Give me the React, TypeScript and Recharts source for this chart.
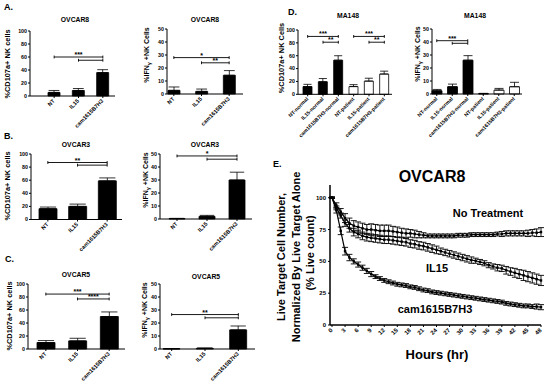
import React from "react";
import {
  BarChart,
  Bar,
  XAxis,
  YAxis,
  ErrorBar,
  ReferenceLine,
  Cell,
  LineChart,
  Line,
} from "recharts";

const FONT = "Arial, 'Liberation Sans', Helvetica, sans-serif";

// categories
const ovcarGroups = ["NT", "IL15", "cam1615B7H3"];
const ma148Groups = [
  "NT-normal",
  "IL15-normal",
  "cam1615B7H3-normal",
  "NT-patient",
  "IL15-patient",
  "cam1615B7H3-patient",
];

// bar means and SEM
const ovcar8Cd107a = [5.5, 8.5, 36];
const ovcar8Cd107aSem = [3, 3, 4.5];
const ovcar8Ifng = [2.8, 2, 14.4];
const ovcar8IfngSem = [2.6, 1.8, 3.6];
const ovcar3Cd107a = [16.5, 20, 59];
const ovcar3Cd107aSem = [2.5, 3.5, 4.5];
const ovcar3Ifng = [0.3, 2, 30];
const ovcar3IfngSem = [0.2, 0.8, 6];
const ovcar5Cd107a = [10, 12.5, 50];
const ovcar5Cd107aSem = [3, 4, 7];
const ovcar5Ifng = [0.2, 0.5, 14.7];
const ovcar5IfngSem = [0.1, 0.3, 3];
const ma148Cd107a = [12, 19.5, 53, 12, 20.5, 31.5];
const ma148Cd107aSem = [3.5, 5, 7, 3, 4.5, 4.5];
const ma148Ifng = [2.5, 5.6, 26, 0.3, 3, 5.6];
const ma148IfngSem = [1, 2, 3.5, 0.2, 1.3, 3.4];

// significance brackets
type Bracket = { from: string; to: string; y: number; label?: string };
const ovcar8Cd107aSig: Bracket[] = [
  { from: "NT", to: "cam1615B7H3", y: 60, label: "***" },
  { from: "IL15", to: "cam1615B7H3", y: 55 },
];
const ovcar8IfngSig: Bracket[] = [
  { from: "NT", to: "cam1615B7H3", y: 28, label: "*" },
  { from: "IL15", to: "cam1615B7H3", y: 24, label: "**" },
];
const ovcar3Cd107aSig: Bracket[] = [
  { from: "NT", to: "cam1615B7H3", y: 87, label: "**" },
  { from: "IL15", to: "cam1615B7H3", y: 83 },
];
const ovcar3IfngSig: Bracket[] = [
  { from: "NT", to: "cam1615B7H3", y: 48.5, label: "*" },
  { from: "IL15", to: "cam1615B7H3", y: 46 },
];
const ovcar5Cd107aSig: Bracket[] = [
  { from: "NT", to: "cam1615B7H3", y: 84.5, label: "***" },
  { from: "IL15", to: "cam1615B7H3", y: 77, label: "****" },
];
const ovcar5IfngSig: Bracket[] = [
  { from: "NT", to: "cam1615B7H3", y: 26.5, label: "**" },
  { from: "IL15", to: "cam1615B7H3", y: 24 },
];
const ma148Cd107aSig: Bracket[] = [
  { from: "NT-normal", to: "cam1615B7H3-normal", y: 90, label: "***" },
  { from: "IL15-normal", to: "cam1615B7H3-normal", y: 81, label: "**" },
  { from: "NT-patient", to: "cam1615B7H3-patient", y: 90, label: "***" },
  { from: "IL15-patient", to: "cam1615B7H3-patient", y: 81, label: "**" },
];
const ma148IfngSig: Bracket[] = [
  { from: "NT-normal", to: "cam1615B7H3-normal", y: 41, label: "***" },
  { from: "IL15-normal", to: "cam1615B7H3-normal", y: 39 },
];

// tick labels
const pctTicks100 = [0, 20, 40, 60, 80, 100];
const pctTicks50 = [0, 10, 20, 30, 40, 50];
const hourTicks = [0, 3, 6, 9, 12, 15, 18, 21, 24, 27, 30, 33, 36, 39, 42, 45, 48];
const liveTicks = [0, 25, 50, 75, 100];

// killing time course (hourly)
const hours = [
  0, 1, 2, 3, 4, 5, 6, 7, 8, 9, 10, 11, 12, 13, 14, 15, 16, 17, 18, 19, 20, 21, 22, 23, 24,
  25, 26, 27, 28, 29, 30, 31, 32, 33, 34, 35, 36, 37, 38, 39, 40, 41, 42, 43, 44, 45, 46, 47, 48,
];
const noTreatment = [
  100, 94, 89, 84, 80, 78, 77, 76, 75, 75,
  74.5, 74, 74, 74, 73.5, 73, 72.5, 72, 72, 71.5,
  71, 70.5, 70, 70, 70, 70, 70, 70, 70, 70.5,
  70.5, 70.5, 71, 71, 71, 71, 71, 71, 71.5, 71.5,
  72, 72, 72, 72, 72, 72, 72.5, 72.5, 73,
];
const noTreatmentSem = [
  0.5, 2, 2.5, 3.5, 4, 4, 4, 4, 4, 4.5,
  4.5, 4.5, 4.5, 4.5, 4, 4, 3.5, 3.5, 3, 3,
  2.5, 2, 1.5, 1.5, 1.5, 1.5, 1.5, 1.5, 1.5, 1.5,
  1.5, 1.5, 1.5, 1.5, 1.5, 1.5, 1.5, 1.5, 1.5, 2,
  2, 2, 2, 2, 2, 2.5, 2.5, 3, 3.5,
];
const il15Course = [
  100, 92, 86, 80, 76, 73, 71.5, 70, 69, 68.5,
  68, 67.5, 67, 67, 66.5, 66, 65.5, 65, 64, 63.5,
  62.5, 62, 61, 60, 59, 58, 57, 56, 55, 54,
  53, 52, 51, 50.5, 49.5, 48.5, 47, 46, 45, 44.5,
  43, 42, 41, 40, 39, 38, 37, 36, 35,
];
const il15CourseSem = [
  0.5, 1.5, 2, 2.5, 3, 3, 3, 3, 3, 3,
  3, 3, 3, 3, 3, 3, 3, 3, 3, 3,
  3, 3, 3, 3, 3, 2.5, 2.5, 2.5, 2.5, 2.5,
  2.5, 2.5, 2.5, 2, 2, 2, 2, 2, 2.5, 2.5,
  3, 3, 3.5, 3.5, 4, 4, 4, 4, 4,
];
const camCourse = [
  100, 90, 74, 58, 53, 50, 47.5, 45, 42.5, 40,
  38, 36.5, 35, 34, 33, 32, 31.5, 31, 30, 29.5,
  28.5, 27.5, 27, 26, 25.5, 25, 24.5, 24, 23.5, 23,
  22.5, 22, 21.5, 21, 20.5, 20, 19.5, 19, 18.5, 18,
  17, 16.5, 16, 15.5, 15, 15, 14.5, 14.5, 14,
];
const camCourseSem = [
  0.5, 2, 3, 3, 2.5, 2, 2, 2, 2, 2,
  1.5, 1.5, 1.5, 1.5, 1.5, 1.5, 1.5, 1.5, 1.5, 1.5,
  1.5, 1.5, 1.5, 1.5, 1.5, 1.5, 1.5, 1.5, 1.5, 1.5,
  1.5, 1.5, 1.5, 1.5, 1.5, 1.5, 1.5, 1.5, 1.5, 1.5,
  1.5, 1.5, 1.5, 1.5, 1.5, 1.5, 1.5, 2, 2,
];

function SlantTick(props: any) {
  const { x, y, payload, fs } = props;
  return (
    <text
      x={x + 1}
      y={y + fs * 0.6}
      transform={`rotate(-45 ${x + 1} ${y + fs * 0.6})`}
      textAnchor="end"
      fontSize={fs}
      fontWeight="bold"
      fontFamily={FONT}
      fill="#000"
    >
      {payload.value}
    </text>
  );
}

function SquareDot(props: any) {
  const { cx, cy } = props;
  if (cx == null || cy == null) return null;
  return <rect x={cx - 1.2} y={cy - 1.2} width={2.4} height={2.4} fill="#000" />;
}

type PanelProps = {
  plot: [number, number, number, number]; // left, right, top, bottom of plot area
  groups: string[];
  values: number[];
  sem: number[];
  yMax: number;
  ticks: number[];
  brackets: Bracket[];
  barSize: number;
  pad: number;
  hollowFrom?: number;
  xh?: number;
  tickFs?: number;
};

function BarPanel({ plot, groups, values, sem, yMax, ticks, brackets, barSize, pad, hollowFrom, xh = 36, tickFs = 5.6 }: PanelProps) {
  const [pl, pr, pt, pb] = plot;
  const yw = 16;
  const mt = 8;
  const data = groups.map((g, i) => ({ name: g, v: values[i], e: [0, sem[i]] }));
  const cap = yMax * 0.022;
  return (
    <div style={{ position: "absolute", left: pl - yw, top: pt - mt }}>
      <BarChart
        width={pr - pl + yw + 2}
        height={pb - pt + mt + xh}
        data={data}
        margin={{ top: mt, right: 2, bottom: 0, left: 0 }}
      >
        <XAxis
          dataKey="name"
          height={xh}
          interval={0}
          tick={<SlantTick fs={tickFs} />}
          tickSize={2}
          tickMargin={0}
          tickLine={{ stroke: "#000" }}
          axisLine={{ stroke: "#000" }}
          padding={{ left: pad, right: 0 }}
        />
        <YAxis
          width={yw}
          domain={[0, yMax]}
          ticks={ticks}
          interval={0}
          tickSize={2}
          tickMargin={1}
          tick={{ fontSize: 5.3, fontWeight: "bold", fill: "#000", fontFamily: FONT }}
          tickLine={{ stroke: "#000" }}
          axisLine={{ stroke: "#000" }}
        />
        <Bar dataKey="v" barSize={barSize} stroke="#000" strokeWidth={0.8} isAnimationActive={false}>
          {data.map((d, i) => (
            <Cell key={d.name} fill={hollowFrom !== undefined && i >= hollowFrom ? "#fff" : "#000"} />
          ))}
          <ErrorBar dataKey="e" width={barSize * 0.45} stroke="#000" strokeWidth={0.8} direction="y" />
        </Bar>
        {brackets.map((b, i) => (
          <ReferenceLine
            key={`b${i}`}
            segment={[
              { x: b.from, y: b.y },
              { x: b.to, y: b.y },
            ]}
            stroke="#000"
            strokeWidth={0.9}
            label={
              b.label
                ? {
                    value: b.label,
                    position: "top",
                    offset: 0,
                    fontSize: 7,
                    fontWeight: "bold",
                    fill: "#000",
                    fontFamily: FONT,
                  }
                : undefined
            }
          />
        ))}
        {brackets.flatMap((b, i) =>
          [b.from, b.to].map((c, j) => (
            <ReferenceLine
              key={`c${i}-${j}`}
              segment={[
                { x: c, y: b.y - cap },
                { x: c, y: b.y + cap },
              ]}
              stroke="#000"
              strokeWidth={0.9}
            />
          ))
        )}
      </BarChart>
    </div>
  );
}

function T({ x, y, size, children, anchor = "middle", rot }: any) {
  return (
    <text
      x={x}
      y={y}
      fontSize={size}
      fontWeight="bold"
      fontFamily={FONT}
      textAnchor={anchor}
      fill="#000"
      transform={rot ? `rotate(-90 ${x} ${y})` : undefined}
    >
      {children}
    </text>
  );
}

function Ifng({ x, y }: { x: number; y: number }) {
  return (
    <text x={x} y={y} fontSize={7} fontWeight="bold" fontFamily={FONT} textAnchor="middle" fill="#000" transform={`rotate(-90 ${x} ${y})`}>
      %IFN<tspan fontSize={5.5} dy={1.5}>γ</tspan>
      <tspan dy={-1.5}> +NK Cells</tspan>
    </text>
  );
}

export default function App() {
  const lineData = hours.map((h, i) => ({
    h,
    nt: noTreatment[i],
    ntE: noTreatmentSem[i],
    il: il15Course[i],
    ilE: il15CourseSem[i],
    cam: camCourse[i],
    camE: camCourseSem[i],
  }));

  return (
    <div style={{ position: "absolute", left: 0, top: 0, width: 550, height: 388, background: "#fff", overflow: "hidden" }}>
      <BarPanel plot={[30, 115, 31, 96]} groups={ovcarGroups} values={ovcar8Cd107a} sem={ovcar8Cd107aSem} yMax={100} ticks={pctTicks100} brackets={ovcar8Cd107aSig} barSize={12} pad={12} />
      <BarPanel plot={[167, 243, 29, 94]} groups={ovcarGroups} values={ovcar8Ifng} sem={ovcar8IfngSem} yMax={50} ticks={pctTicks50} brackets={ovcar8IfngSig} barSize={12} pad={-7} />
      <BarPanel plot={[31, 122, 154, 219.5]} groups={ovcarGroups} values={ovcar3Cd107a} sem={ovcar3Cd107aSem} yMax={100} ticks={pctTicks100} brackets={ovcar3Cd107aSig} barSize={18} pad={2} />
      <BarPanel plot={[160, 252, 154, 219]} groups={ovcarGroups} values={ovcar3Ifng} sem={ovcar3IfngSem} yMax={50} ticks={pctTicks50} brackets={ovcar3IfngSig} barSize={16} pad={2} />
      <BarPanel plot={[28, 125, 284, 349]} groups={ovcarGroups} values={ovcar5Cd107a} sem={ovcar5Cd107aSem} yMax={100} ticks={pctTicks100} brackets={ovcar5Cd107aSig} barSize={18} pad={2} />
      <BarPanel plot={[160, 255, 284, 349]} groups={ovcarGroups} values={ovcar5Ifng} sem={ovcar5IfngSem} yMax={50} ticks={pctTicks50} brackets={ovcar5IfngSig} barSize={17} pad={-5} />
      <BarPanel plot={[297.5, 391.5, 30, 94.3]} groups={ma148Groups} values={ma148Cd107a} sem={ma148Cd107aSem} yMax={100} ticks={pctTicks100} brackets={ma148Cd107aSig} barSize={9} pad={2} hollowFrom={3} xh={50} tickFs={5.2} />
      <BarPanel plot={[432, 522, 29, 94]} groups={ma148Groups} values={ma148Ifng} sem={ma148IfngSem} yMax={50} ticks={pctTicks50} brackets={ma148IfngSig} barSize={10} pad={-3} hollowFrom={3} xh={50} tickFs={5.2} />

      <div style={{ position: "absolute", left: 305, top: 180 }}>
        <LineChart width={240} height={167} data={lineData} margin={{ top: 5, right: 4, bottom: 0, left: 0 }}>
          <XAxis
            dataKey="h"
            type="number"
            domain={[0, 48]}
            ticks={hourTicks}
            interval={0}
            height={22}
            padding={{ left: 2, right: 0 }}
            tick={<SlantTick fs={6} />}
            tickSize={2}
            tickMargin={0}
            tickLine={{ stroke: "#000" }}
            axisLine={{ stroke: "#000", strokeWidth: 1.5 }}
          />
          <YAxis
            width={25}
            domain={[0, 110]}
            ticks={liveTicks}
            interval={0}
            tickSize={2}
            tickMargin={2}
            tick={{ fontSize: 6, fontWeight: "bold", fill: "#000", fontFamily: FONT }}
            tickLine={{ stroke: "#000" }}
            axisLine={{ stroke: "#000", strokeWidth: 1.5 }}
          />
          <Line dataKey="nt" stroke="#000" strokeWidth={1.2} dot={<SquareDot />} isAnimationActive={false}>
            <ErrorBar dataKey="ntE" width={3} stroke="#000" strokeWidth={0.9} direction="y" />
          </Line>
          <Line dataKey="il" stroke="#000" strokeWidth={1.2} dot={<SquareDot />} isAnimationActive={false}>
            <ErrorBar dataKey="ilE" width={3} stroke="#000" strokeWidth={0.9} direction="y" />
          </Line>
          <Line dataKey="cam" stroke="#000" strokeWidth={1.2} dot={<SquareDot />} isAnimationActive={false}>
            <ErrorBar dataKey="camE" width={3} stroke="#000" strokeWidth={0.9} direction="y" />
          </Line>
        </LineChart>
      </div>

      <svg width={550} height={388} style={{ position: "absolute", left: 0, top: 0, pointerEvents: "none" }}>
        <T x={4} y={10} size={9} anchor="start">A.</T>
        <T x={4} y={139} size={9} anchor="start">B.</T>
        <T x={5} y={262} size={9} anchor="start">C.</T>
        <T x={288} y={15} size={9} anchor="start">D.</T>
        <T x={273} y={167} size={9} anchor="start">E.</T>

        <T x={75} y={22} size={6.8}>OVCAR8</T>
        <T x={205} y={22} size={6.8}>OVCAR8</T>
        <T x={76} y={147} size={6.8}>OVCAR3</T>
        <T x={205} y={147} size={6.8}>OVCAR3</T>
        <T x={76} y={277} size={6.8}>OVCAR5</T>
        <T x={206} y={279} size={6.8}>OVCAR5</T>
        <T x={348} y={18} size={6.8}>MA148</T>
        <T x={475} y={18} size={6.8}>MA148</T>

        <T x={10} y={64} size={7.4} rot>%CD107a+ NK cells</T>
        <T x={10} y={186} size={7.4} rot>%CD107a+  NK cells</T>
        <T x={12} y={316} size={7.4} rot>%CD107a+ NK cells</T>
        <T x={284} y={58} size={7.4} rot>%CD107a+ NK Cells</T>
        <Ifng x={149} y={55} />
        <Ifng x={148} y={180} />
        <Ifng x={147} y={310} />
        <Ifng x={420} y={54} />

        <T x={432} y={182} size={16}>OVCAR8</T>
        <T x={285} y={257} size={11} rot>Live Target Cell Number,</T>
        <T x={299.5} y={257} size={11} rot>Normalized By Live Target Alone</T>
        <T x={314} y={253} size={11} rot>(% Live count)</T>
        <T x={437} y={359} size={13}>Hours (hr)</T>
        <T x={488} y={217} size={11}>No Treatment</T>
        <T x={437} y={272} size={11}>IL15</T>
        <T x={435} y={313} size={11}>cam1615B7H3</T>
      </svg>
    </div>
  );
}
